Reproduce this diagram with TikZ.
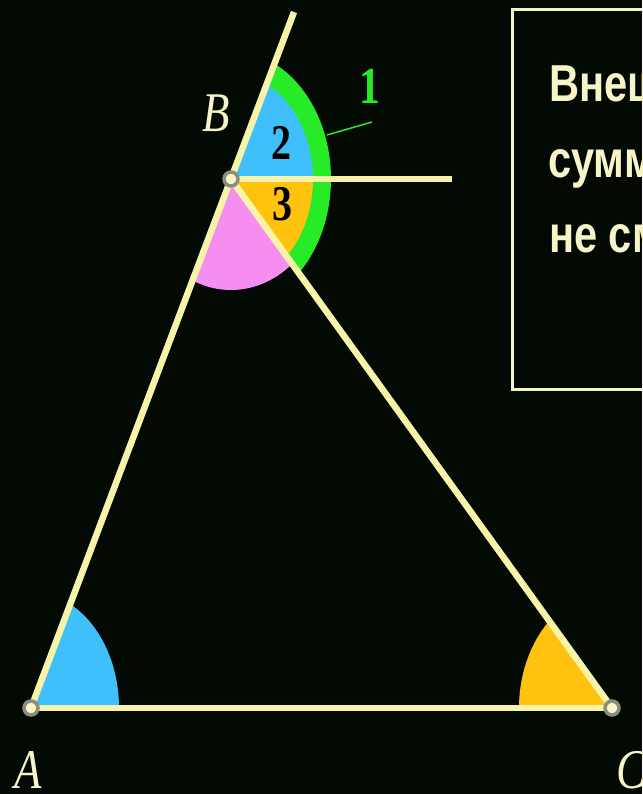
\documentclass[tikz,border=0pt]{standalone}
\usepackage{fontspec}
\setmainfont{Liberation Serif}
\newfontfamily\boxfont{Liberation Sans}[FakeStretch=0.8]
\newfontfamily\lblfont{Liberation Serif}[FakeStretch=0.8]
\definecolor{bg}{RGB}{2,10,3}
\definecolor{lineY}{RGB}{247,243,168}
\definecolor{txtY}{RGB}{247,245,200}
\definecolor{grn}{RGB}{40,235,40}
\definecolor{skyb}{RGB}{64,192,250}
\definecolor{orng}{RGB}{255,194,14}
\definecolor{pnk}{RGB}{245,142,240}
\definecolor{ringG}{RGB}{140,140,128}
\tikzset{
  seg/.style={line width=6.5pt, draw=lineY},
  boxline/.style={line width=3pt, draw=txtY},
  boxtext/.style={text=txtY, font=\boxfont\bfseries\fontsize{52}{52}\selectfont, inner sep=0pt, anchor=base west},
  vlbl/.style={text=txtY, font=\lblfont\itshape\fontsize{56}{56}\selectfont, inner sep=0pt},
  numlbl/.style={text=black, font=\lblfont\bfseries\fontsize{50}{50}\selectfont, inner sep=0pt},
  pt/.style={circle, draw=ringG, fill=txtY, line width=3.5pt, minimum size=14pt, inner sep=0pt}
}
\begin{document}
\begin{tikzpicture}[x=1pt,y=1pt]
\useasboundingbox (0,0) rectangle (642,794);
\clip (0,0) rectangle (642,794);
\fill[bg] (0,0) rectangle (642,794);
% points
\coordinate (A) at (31,86);
\coordinate (B) at (231,615);
\coordinate (C) at (612,86);
\coordinate (T) at (294,782);
\coordinate (H) at (452,615);
% angle sectors at B
\fill[grn] (B) -- ++(-48:100pt and 128pt) arc[start angle=-48,end angle=64.7,x radius=100pt,y radius=128pt] -- cycle;
\fill[skyb] (B) -- ++(0:82pt and 105pt) arc[start angle=0,end angle=64.2,x radius=82pt,y radius=105pt] -- cycle;
\fill[orng] (B) -- ++(-47.3:82pt and 105pt) arc[start angle=-47.3,end angle=0,x radius=82pt,y radius=105pt] -- cycle;
\fill[pnk] (B) -- ++(246.2:95pt and 111pt) arc[start angle=246.2,end angle=310.1,x radius=95pt,y radius=111pt] -- cycle;
% angles at A and C
\fill[skyb] (A) -- ++(0:88pt and 116pt) arc[start angle=0,end angle=63.5,x radius=88pt,y radius=116pt] -- cycle;
\fill[orng] (C) -- ++(132.4:93pt and 118pt) arc[start angle=132.4,end angle=180,x radius=93pt,y radius=118pt] -- cycle;
% lines
\draw[seg] (A) -- (T);
\draw[seg] (A) -- (C);
\draw[seg] (B) -- (C);
\draw[seg] (B) -- (H);
% vertex markers
\node[pt] (pA) at (A) {};
\node[pt] (pB) at (B) {};
\node[pt] (pC) at (C) {};
% labels
\node[vlbl] (lA) at (28,24) {A};
\node[vlbl] (lB) at (216,681) {B};
\node[vlbl] (lC) at (631,24) {C};
\node[numlbl, font=\lblfont\bfseries\fontsize{52}{52}\selectfont, text=grn] (n1) at (370,708) {1};
\coordinate (lead1) at (327,659);
\coordinate (lead2) at (372,672);
\draw[grn, line width=1.5pt] (lead1) -- (lead2);
\node[numlbl] (n2) at (281,651) {2};
\node[numlbl] (n3) at (282,590) {3};
% text box
\draw[boxline] (512,404) rectangle (720,784);
\node[boxtext] (t1) at (549,692) {Внешний угол треугольника равен};
\node[boxtext] (t2) at (548,616) {сумме двух углов треугольника,};
\node[boxtext] (t3) at (549,541) {не смежных с ним.};
\end{tikzpicture}
\end{document}
